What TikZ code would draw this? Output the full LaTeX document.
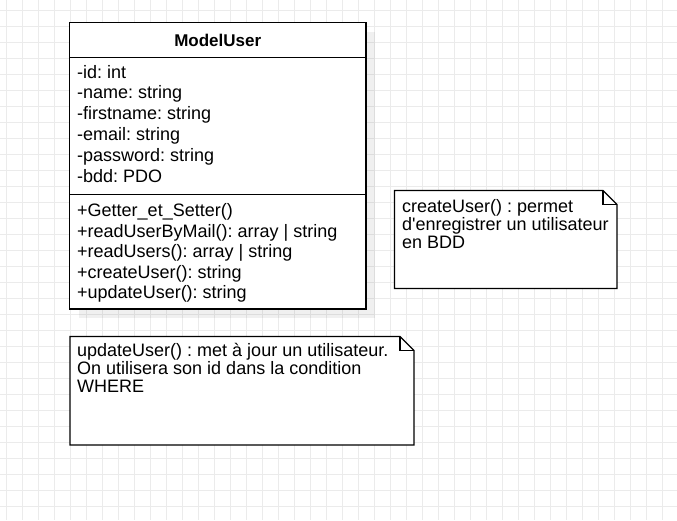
\documentclass[tikz,border=0pt]{standalone}
\usepackage{fontspec}
\setmainfont{Liberation Sans}
\frenchspacing
\begin{document}
\frenchspacing
\begin{tikzpicture}[x=1pt,y=-1pt,
  gridline/.style={draw=black!8, line width=0.8pt},
  boxline/.style={draw=black, line width=1.3pt},
  txt/.style={anchor=base west, inner sep=0pt, font=\fontsize{18}{20}\selectfont, text=black},
  hdrtxt/.style={anchor=base, inner sep=0pt, font=\bfseries\fontsize{17}{20}\selectfont, text=black},
  frame/.style={anchor=north west, inner sep=0pt, outer sep=0pt}]
\useasboundingbox (0,0) rectangle (677,520);
\fill[white] (0,0) rectangle (677,520);
\foreach \i in {0,...,42} \draw[gridline] (6+16*\i,0) -- (6+16*\i,520);
\foreach \j in {0,...,32} \draw[gridline] (0,10+16*\j) -- (677,10+16*\j);
% class shadow
\fill[black, opacity=0.06] (79,32) rectangle (375,318);
% class box
\node[frame, boxline, fill=white, minimum width=296.5pt, minimum height=286.5pt] (cls) at (69.5,22.5) {};
\coordinate (d1) at (0,57.5);
\coordinate (d2) at (0,194.5);
\draw[boxline] (cls.west |- d1) -- (cls.east |- d1);
\draw[boxline] (cls.west |- d2) -- (cls.east |- d2);
\node[hdrtxt] (hdr) at (217.75,46) {ModelUser};
\foreach \t [count=\k] in {{-id: int},{-name: string},{-firstname: string},{-email: string},{-password: string},{-bdd: PDO}}
  \node[txt] (a\k) at (77,78+20.9*\k-20.9) {\t};
\foreach \t [count=\k] in {{+Getter\_et\_Setter()},{+readUserByMail(): array | string},{+readUsers(): array | string},{+createUser(): string},{+updateUser(): string}}
  \node[txt] (m\k) at (77,216.5+20.5*\k-20.5) {\t};
% note 1
\node[frame, minimum width=222.5pt, minimum height=98pt] (n1) at (394.5,190.5) {};
\draw[boxline, fill=white, line join=miter] (n1.north west) -- ([xshift=-14pt]n1.north east) -- ([yshift=-14pt]n1.north east) -- (n1.south east) -- (n1.south west) -- cycle;
\draw[boxline] ([xshift=-14pt]n1.north east) -- ([xshift=-14pt,yshift=-14pt]n1.north east) -- ([yshift=-14pt]n1.north east);
\foreach \t [count=\k] in {{createUser() : permet},{d\textquotesingle enregistrer un utilisateur},{en BDD}}
  \node[txt] (c\k) at (402,212.5+18*\k-18) {\t};
% note 2
\node[frame, minimum width=344pt, minimum height=108.5pt] (n2) at (70,336.5) {};
\draw[boxline, fill=white, line join=miter] (n2.north west) -- ([xshift=-14pt]n2.north east) -- ([yshift=-14pt]n2.north east) -- (n2.south east) -- (n2.south west) -- cycle;
\draw[boxline] ([xshift=-14pt]n2.north east) -- ([xshift=-14pt,yshift=-14pt]n2.north east) -- ([yshift=-14pt]n2.north east);
\foreach \t [count=\k] in {{updateUser() : met à jour un utilisateur.},{On utilisera son id dans la condition},{WHERE}}
  \node[txt] (u\k) at (77,356.7+18*\k-18) {\t};
\end{tikzpicture}
\end{document}
